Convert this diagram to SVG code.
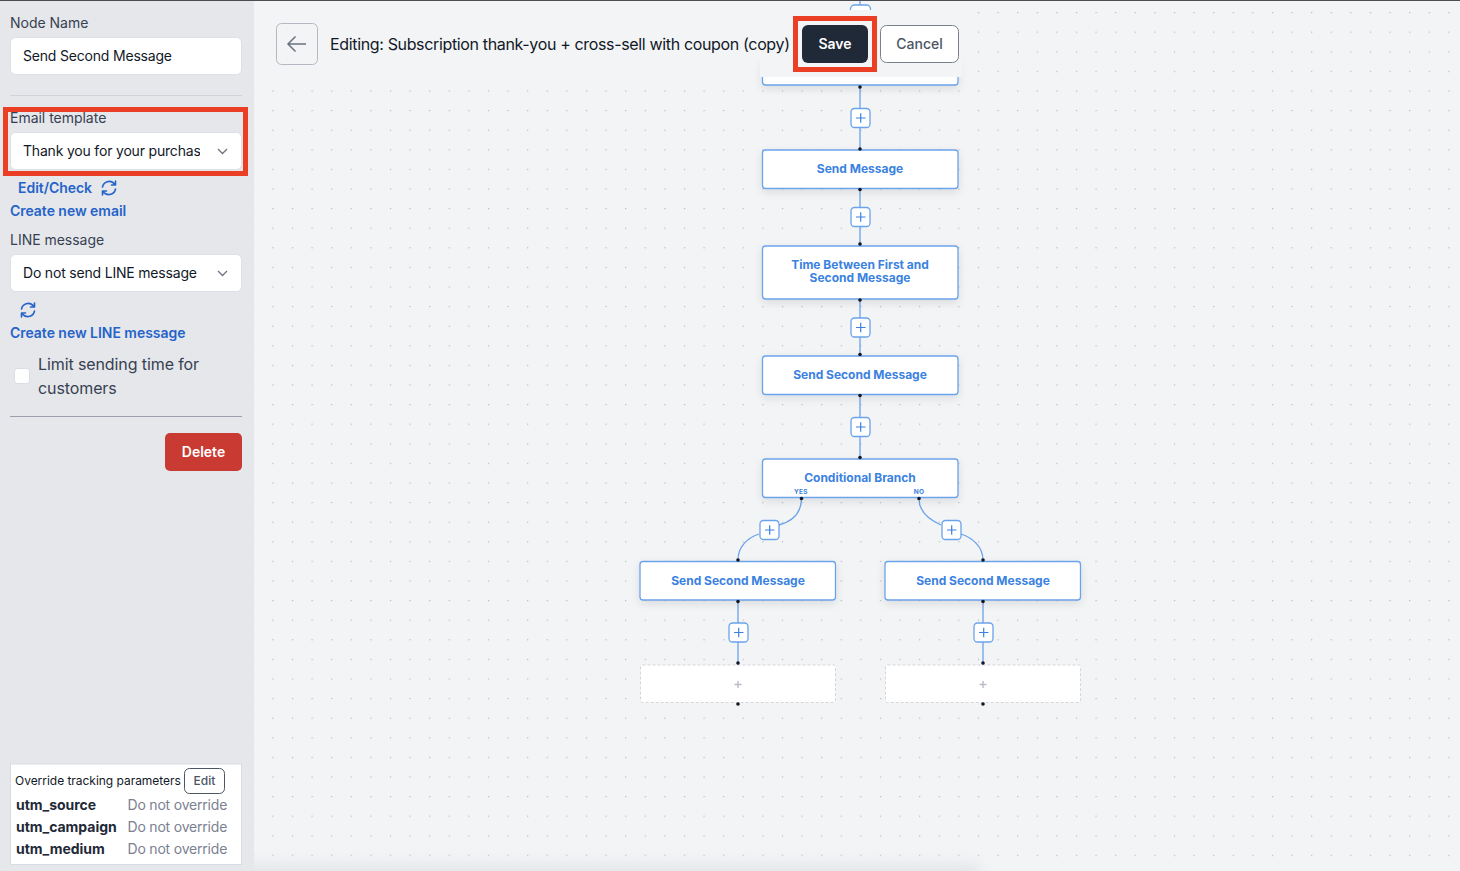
<svg xmlns="http://www.w3.org/2000/svg" width="1460" height="871" viewBox="0 0 1460 871">
<style>
text{font-family:Inter,"Liberation Sans",sans-serif}
.lbl{font-size:14px;fill:#374151;letter-spacing:-.02px}
.val{font-size:14px;fill:#111827;letter-spacing:-.19px}
.link{font-size:14px;font-weight:600;fill:#2563c9;letter-spacing:-.04px}
.field{fill:#fff;stroke:#dcdfe5;stroke-width:1}
.n{fill:#fff;stroke:#6ba3ea;stroke-width:1.3;filter:url(#sh)}
.nt{font-size:12px;font-weight:650;fill:#3b82e0;text-anchor:middle}
.c{fill:none;stroke:#6ba3ea;stroke-width:1.3}
.d{fill:#111827}
.pb{fill:#fff;stroke:#6ba3ea;stroke-width:1.3}
.pp{fill:none;stroke:#3b82e0;stroke-width:1.2}
.ph{fill:#fff;stroke:#d4d6db;stroke-width:1;stroke-dasharray:3 2}
.pg{fill:none;stroke:#b9bcc2;stroke-width:1.4}
.hl{fill:none;stroke:#ea3f24;stroke-width:5}
.ch{fill:none;stroke:#6b7280;stroke-width:1.3}
.ref{fill:none;stroke:#2563c9;stroke-width:1.6;stroke-linecap:round;stroke-linejoin:round}
.utm{font-size:14px;font-weight:700;fill:#1f2937;letter-spacing:-.03px}
.no{font-size:14px;fill:#7b8190;letter-spacing:-.2px}
.yn{font-size:6.500px;font-weight:700;fill:#3b82e0;text-anchor:middle;letter-spacing:.3px}
</style>
<defs>
<pattern id="g" width="19.6" height="19.6" patternUnits="userSpaceOnUse" x="17.5" y="12"><rect x="0" y="0" width="1.2" height="1.2" fill="#b6b9bf"/></pattern>
<filter id="sh" x="-10%" y="-30%" width="120%" height="170%"><feDropShadow dx="0" dy="3" stdDeviation="4" flood-color="#000" flood-opacity=".1"/></filter>
<filter id="bl" x="-10%" y="-200%" width="120%" height="500%"><feGaussianBlur stdDeviation="8"/></filter>
<clipPath id="cv"><rect x="254" width="1206" height="871"/></clipPath>
<g id="ref"><path class="ref" d="M-6.5-1A6.8 6.8 0 0 1 5-4.6L6.5-3M6.5-7V-3H2.5M6.5 1A6.8 6.8 0 0 1-5 4.6L-6.5 3M-6.5 7V3H-2.5"/></g>
<g id="plus"><rect class="pb" x="-9.5" y="-9.5" width="19" height="19" rx="3.5"/><path class="pp" d="M-4.5 0H5M0.2-4.7V4.700"/></g>
</defs>
<rect width="1460" height="871" fill="#f3f4f6"/>
<rect x="254" width="1206" height="871" fill="url(#g)"/>
<g clip-path="url(#cv)"><rect x="240" y="864" width="740" height="20" fill="#e2e4e8" filter="url(#bl)"/></g>

<g id="connectors">
<path class="c" d="M860 0V10M860 86V150M860 189V246M860 299V356M860 395V459M738 601V665M983 601V665"/>
<path class="c" d="M801.500 499C801 515 790 522 779 525M759 534C747 538 738 547 738 560"/>
<path class="c" d="M919 499C919 512 930 520 941 525M961 534C973 538 983 547 983 560"/>
</g>

<g id="node-top-plus"><rect class="pb" x="850.500" y="5" width="20" height="20" rx="4"/></g>
<rect id="header-band" x="254" y="10" width="708" height="67" fill="#f3f4f6"/>
<g id="node-send-first-top"><rect x="762.500" y="60" width="195.500" height="25" rx="3" class="n"/><rect x="760" y="50" width="202" height="27" fill="#f3f4f6"/></g>
<g id="node-send-message"><rect x="762.500" y="150" width="195.500" height="38.500" rx="3" class="n"/><text class="nt" x="860" y="173">Send Message</text></g>
<g id="node-time"><rect x="762.500" y="246" width="195.500" height="53" rx="3" class="n"/><text class="nt" x="860" y="269">Time Between First and</text><text class="nt" x="860" y="282">Second Message</text></g>
<g id="node-second"><rect x="762.500" y="356" width="195.500" height="38.500" rx="3" class="n"/><text class="nt" x="860" y="379">Send Second Message</text></g>
<g id="node-branch"><rect x="762.500" y="459" width="195.500" height="38.500" rx="3" class="n"/><text class="nt" x="860" y="482">Conditional Branch</text><text class="yn" x="801" y="494">YES</text><text class="yn" x="919" y="494">NO</text></g>
<g id="node-yes"><rect x="640" y="561.500" width="195.500" height="38.500" rx="3" class="n"/><text class="nt" x="738" y="585">Send Second Message</text></g>
<g id="node-no"><rect x="885" y="561.500" width="195.500" height="38.500" rx="3" class="n"/><text class="nt" x="983" y="585">Send Second Message</text></g>
<g id="node-empty-yes"><rect class="ph" x="640.500" y="665" width="195" height="37.500" rx="2"/><path class="pg" d="M734.500 684.500H741.500M738 681V688"/></g>
<g id="node-empty-no"><rect class="ph" x="885.500" y="665" width="195" height="37.500" rx="2"/><path class="pg" d="M979.500 684.500H986.500M983 681V688"/></g>

<g id="plus-buttons">
<use href="#plus" x="860.500" y="118"/><use href="#plus" x="860.500" y="217"/><use href="#plus" x="860.500" y="327.500"/><use href="#plus" x="860.500" y="427"/>
<use href="#plus" x="769.500" y="530"/><use href="#plus" x="951.500" y="530"/><use href="#plus" x="738.500" y="632.500"/><use href="#plus" x="983.500" y="632.500"/>
</g>
<g id="dots" class="d">
<circle cx="860" cy="87" r="1.800"/><circle cx="860" cy="149" r="1.800"/><circle cx="860" cy="189.500" r="1.800"/><circle cx="860" cy="244" r="1.800"/><circle cx="860" cy="300" r="1.800"/><circle cx="860" cy="354.500" r="1.800"/><circle cx="860" cy="395.500" r="1.800"/><circle cx="860" cy="457.500" r="1.800"/>
<circle cx="801.500" cy="498.500" r="1.800"/><circle cx="919" cy="498.500" r="1.800"/><circle cx="738" cy="560" r="1.800"/><circle cx="983" cy="560" r="1.800"/><circle cx="738" cy="601.500" r="1.800"/><circle cx="983" cy="601.500" r="1.800"/><circle cx="738" cy="663" r="1.800"/><circle cx="983" cy="663" r="1.800"/><circle cx="738" cy="704" r="1.800"/><circle cx="983" cy="704" r="1.800"/>
</g>

<g id="header">
<rect x="276.500" y="23.500" width="41" height="41" rx="5" fill="none" stroke="#b4b8c2"/>
<path d="M306 44H288M295.500 36.500L288 44L295.500 51.500" fill="none" stroke="#6b7280" stroke-width="1.500"/>
<text x="330" y="50" font-size="16" fill="#111827" textLength="460" lengthAdjust="spacing">Editing: Subscription thank-you + cross-sell with coupon (copy)</text>
<rect x="802" y="25" width="66" height="38" rx="6" fill="#1f2937"/>
<text x="835" y="49" font-size="14" font-weight="600" fill="#fff" text-anchor="middle">Save</text>
<rect x="880.500" y="25.500" width="78" height="37" rx="6" fill="#fff" stroke="#7a808c"/>
<text x="919.500" y="49" font-size="14" font-weight="500" fill="#4b5563" text-anchor="middle">Cancel</text>
<rect class="hl" x="795.500" y="18.500" width="79" height="51"/>
</g>

<g id="sidebar">
<rect width="254" height="871" fill="#e5e7eb"/>
<text class="lbl" x="10" y="28">Node Name</text>
<rect class="field" x="10.500" y="37.500" width="231" height="37" rx="5"/>
<text class="val" x="23" y="61">Send Second Message</text>
<path d="M10 95.500H242" stroke="#d1d3da"/>
<text class="lbl" x="10" y="123">Email template</text>
<rect class="field" x="10.500" y="132.500" width="231" height="37" rx="5"/>
<svg x="23" y="140" width="177" height="24" viewBox="23 140 177 24"><text class="val" x="23" y="156">Thank you for your purchase</text></svg>
<path class="ch" d="M218 149L222.500 153.500L227 149"/>
<rect class="hl" x="5.500" y="109.500" width="240" height="64"/>
<text class="link" x="18" y="193">Edit/Check</text>
<use href="#ref" x="109" y="188"/>
<text class="link" x="10" y="216">Create new email</text>
<text class="lbl" x="10" y="245">LINE message</text>
<rect class="field" x="10.500" y="254.500" width="231" height="37" rx="5"/>
<text class="val" x="23" y="278">Do not send LINE message</text>
<path class="ch" d="M218 271L222.500 275.500L227 271"/>
<use href="#ref" x="28" y="310"/>
<text class="link" x="10" y="338">Create new LINE message</text>
<rect x="14.500" y="368.500" width="15" height="15" rx="3" fill="#fff" stroke="#d9dce3"/>
<text x="38" y="370" font-size="16" fill="#374151" letter-spacing="-.1">Limit sending time for</text>
<text x="38" y="394" font-size="16" fill="#374151" letter-spacing="-.1">customers</text>
<path d="M10 416.500H242" stroke="#9ca0aa"/>
<rect x="165" y="433" width="77" height="38" rx="5" fill="#c83a32"/>
<text x="203.500" y="457" font-size="14" font-weight="600" fill="#fff" text-anchor="middle">Delete</text>
<rect x="10.500" y="764" width="231" height="100.500" fill="#fff" stroke="#d9dce3"/>
<text x="15" y="785" font-size="12" fill="#111827" letter-spacing="-.03">Override tracking parameters</text>
<rect x="184.500" y="768.500" width="40" height="25" rx="5" fill="#fff" stroke="#4b5563"/>
<text x="204.500" y="785" font-size="12" font-weight="500" fill="#4b5563" text-anchor="middle">Edit</text>
<text class="utm" x="16" y="810">utm_source</text><text class="no" x="127.500" y="810">Do not override</text>
<text class="utm" x="16" y="832">utm_campaign</text><text class="no" x="127.500" y="832">Do not override</text>
<text class="utm" x="16" y="854">utm_medium</text><text class="no" x="127.500" y="854">Do not override</text>
</g>
<rect id="top-edge" width="1460" height="1" fill="#4b4d52"/>
</svg>
